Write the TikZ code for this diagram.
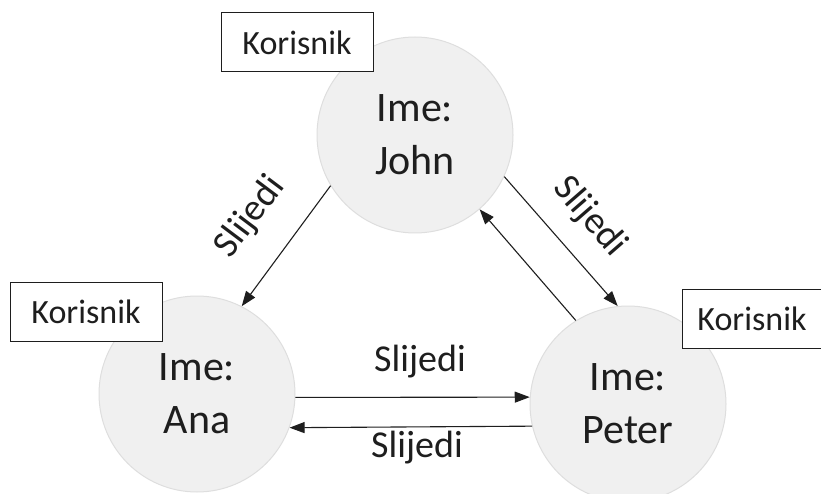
\documentclass[tikz,border=0pt]{standalone}
\usepackage{fontspec}
\setmainfont{Carlito}
\usetikzlibrary{arrows.meta}
\definecolor{usr_fill}{RGB}{240, 240, 240}
\definecolor{usr_line}{RGB}{222, 222, 222}
\definecolor{ink}{RGB}{30, 30, 30}
\tikzstyle{un}=[circle,fill=usr_fill,draw=usr_line,line width=1pt,
  minimum size=196pt,inner sep=0pt,align=center,text=ink,
  font=\fontsize{42}{53}\selectfont]
\tikzstyle{tag}=[rectangle,draw=ink,fill=white,line width=1pt,
  minimum width=152pt,minimum height=59pt,inner sep=0pt,text=ink,
  font=\fontsize{34}{40}\selectfont]
\tikzstyle{lbl}=[text=ink,inner sep=0pt,font=\fontsize{38}{44}\selectfont]
\tikzstyle{fol}=[draw=ink,line width=1.1pt,-{Triangle[length=15pt,width=11pt]}]
\tikzstyle{none}=[]

\begin{document}
\begin{tikzpicture}[x=1pt,y=1pt]
            \useasboundingbox (0, 0) rectangle (821, 493);
            \node [style=un] (0) at (415, 358) {Ime:\\John};
            \node [style=un] (1) at (197, 99) {Ime:\\Ana};
            \node [style=un] (2) at (628, 89) {Ime:\\Peter};
            \node [style=tag] (3) at (297, 450.5) {Korisnik};
            \node [style=tag] (4) at (86, 181.5) {Korisnik};
            \node [style=tag, minimum width=140pt] (5) at (752, 174) {Korisnik};
            \node [style=lbl, rotate=53] (6) at (250, 276) {Slijedi};
            \node [style=lbl, rotate=-49] (7) at (590, 276) {Slijedi};
            \node [style=lbl] (8) at (420, 131) {Slijedi};
            \node [style=lbl] (9) at (417, 45) {Slijedi};
            \draw [style=fol] (0.211) to (1.63);
            \draw [style=fol] (0.335) to (2.96);
            \draw [style=fol] (2.122) to (0.311);
            \draw [style=fol] (1.-2) to (2.176);
            \draw [style=fol] (2.193) to (1.340);
    \end{tikzpicture}
\end{document}
